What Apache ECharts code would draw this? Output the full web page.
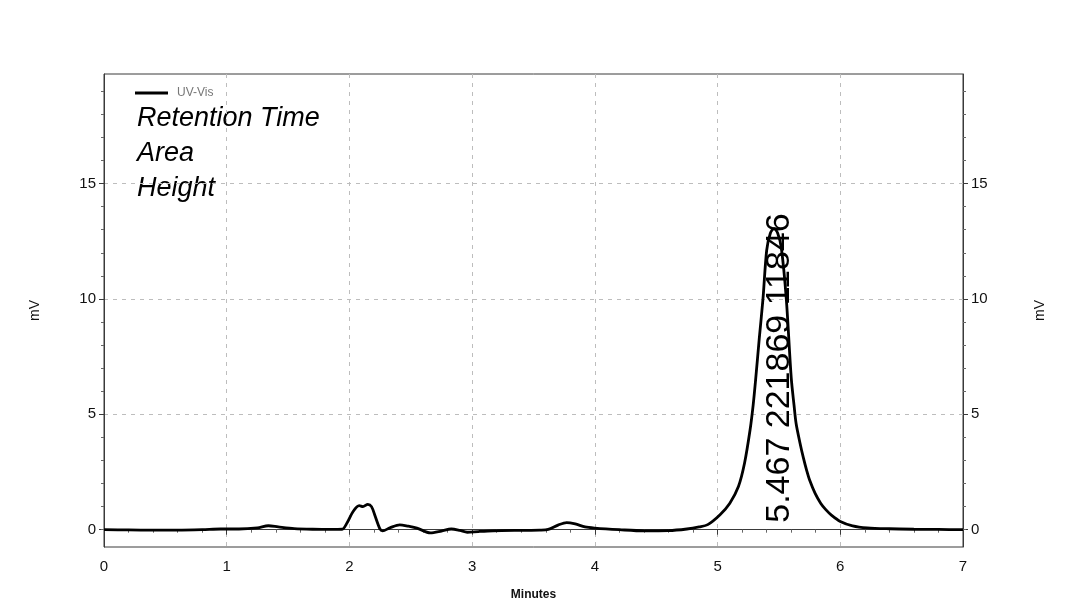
<!DOCTYPE html>
<html><head><meta charset="utf-8">
<script src="https://cdn.jsdelivr.net/npm/echarts@6/dist/echarts.min.js"></script>
<style>html,body{margin:0;padding:0;background:#fff}#c{width:1066px;height:614px}</style>
</head><body><div id="c"></div>
<script>
const timeMin = [0.00,0.20,0.40,0.60,0.80,0.95,1.10,1.25,1.34,1.42,1.55,1.70,1.85,1.94,1.98,2.03,2.08,2.11,2.15,2.18,2.21,2.25,2.27,2.33,2.41,2.48,2.55,2.66,2.75,2.83,2.90,2.96,3.05,3.17,3.39,3.55,3.62,3.70,3.77,3.84,3.92,4.00,4.20,4.40,4.60,4.75,4.85,4.92,5.02,5.10,5.17,5.22,5.265,5.29,5.31,5.34,5.37,5.40,5.43,5.46,5.49,5.52,5.56,5.60,5.623,5.64,5.672,5.70,5.727,5.75,5.795,5.84,5.88,5.93,6.00,6.10,6.22,6.40,6.60,6.80,7.00];
const signalMv = [0.00,-0.01,-0.02,-0.02,0.00,0.03,0.03,0.08,0.17,0.12,0.05,0.02,0.01,0.02,0.29,0.79,1.04,1.00,1.10,1.00,0.58,0.02,-0.05,0.08,0.21,0.15,0.07,-0.14,-0.06,0.03,-0.03,-0.11,-0.08,-0.05,-0.03,-0.02,0.01,0.20,0.31,0.25,0.12,0.07,0.00,-0.05,-0.04,0.03,0.12,0.22,0.65,1.15,1.87,2.89,4.33,5.40,6.49,8.30,10.00,12.10,12.85,13.05,12.85,12.20,10.00,6.60,5.40,4.60,3.75,3.10,2.55,2.15,1.57,1.15,0.88,0.62,0.36,0.17,0.08,0.04,0.02,0.01,0.00];
const xTickValues = [0,1,2,3,4,5,6,7];
const yTickValues = [0,5,10,15];
const yMinorTickValues = [0,1,2,3,4,6,7,8,9,11,12,13,14,16,17,18,19];
const seriesName = 'UV-Vis';
const peakTime = 5.467, peakArea = 221869, peakHeight = 11846;
const peakLabelStart = 0.3;
const infoLines = ['Retention Time','Area','Height'];

const chart = echarts.init(document.getElementById('c'), null, {renderer:'canvas'});
const axisColor = '#3a3a3a';
const gridDash = {show:true, lineStyle:{color:'#bdbdbd', type:[4,5], width:1}};
function yAxisMain(pos, gap){
  return {type:'value', min:-0.75, max:19.75, position:pos,
    axisLine:{show:true, lineStyle:{color:axisColor, width:1}},
    axisTick:{show:true, customValues:yTickValues, length:5, lineStyle:{color:axisColor}},
    axisLabel:{customValues:yTickValues, fontSize:15, color:'#111', margin:8, fontFamily:'Liberation Sans'},
    splitLine: pos==='left' ? gridDash : {show:false},
    name:'mV', nameLocation:'middle', nameGap:gap, nameRotate:90,
    nameTextStyle:{fontSize:14, color:'#111', fontFamily:'Liberation Sans'}};
}
function yAxisMinor(pos){
  return {type:'value', min:-0.75, max:19.75, position:pos,
    axisLine:{show:false}, axisLabel:{show:false}, splitLine:{show:false},
    axisTick:{show:true, customValues:yMinorTickValues, length:3, lineStyle:{color:'#666'}}};
}
const option = {
  backgroundColor:'#fff',
  animation:false,
  grid:{left:104, right:103, top:74, bottom:67, show:true, borderColor:axisColor, borderWidth:1},
  legend:{data:[{name:seriesName, icon:'rect'}], left:130, top:82, itemWidth:33, itemHeight:3,
    textStyle:{color:'#777', fontSize:12, fontFamily:'Liberation Sans', padding:[0,0,0,4]}},
  xAxis:{type:'value', min:xTickValues[0], max:xTickValues[xTickValues.length-1], interval:1,
    axisLine:{show:true, lineStyle:{color:axisColor}},
    axisTick:{show:true, length:5, lineStyle:{color:axisColor}},
    minorTick:{show:true, splitNumber:5, length:3, lineStyle:{color:'#666'}},
    axisLabel:{fontSize:15, color:'#111', margin:12, fontFamily:'Liberation Sans'},
    splitLine:gridDash,
    name:'Minutes', nameLocation:'middle', nameGap:42,
    nameTextStyle:{fontSize:12, fontWeight:'bold', color:'#111', fontFamily:'Liberation Sans'}},
  yAxis:[yAxisMain('left',62), yAxisMain('right',70), yAxisMinor('left'), yAxisMinor('right')],
  graphic: infoLines.map((t,i)=>({type:'text', left:137, top:105+i*35,
    style:{text:t, font:'italic 27px "Liberation Sans"', fill:'#000'}})),
  series:[{name:seriesName, type:'line', yAxisIndex:0, showSymbol:false, smooth:0.3,
    lineStyle:{color:'#000', width:2.8}, itemStyle:{color:'#000'},
    data: timeMin.map((t,i)=>[t, signalMv[i]]),
    markPoint:{symbol:'circle', symbolSize:0, silent:true,
      data:[{coord:[peakTime+0.035, peakLabelStart],
        label:{show:true, position:'inside', formatter: peakTime.toFixed(3)+' '+peakArea+' '+peakHeight,
          rotate:90, align:'left', verticalAlign:'middle', fontSize:34, color:'#000',
          fontFamily:'Liberation Sans'}}]}
  }]
};
chart.setOption(option);
</script></body></html>
